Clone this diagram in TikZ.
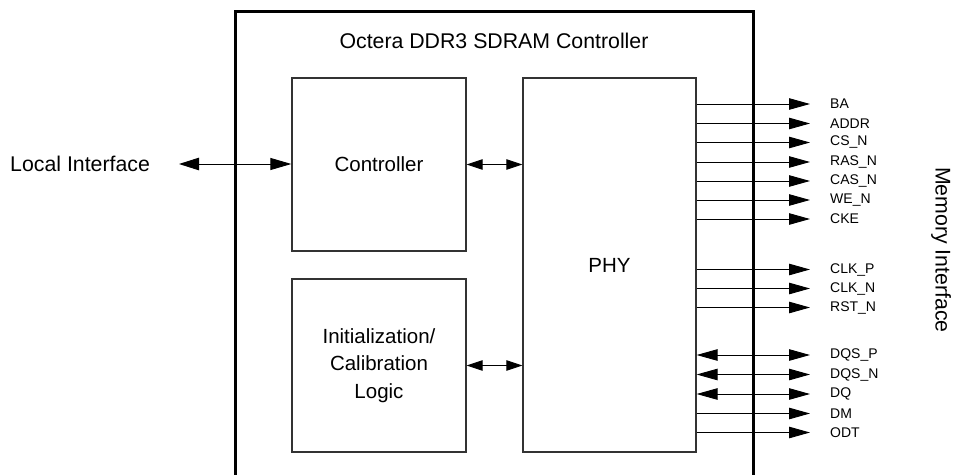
\documentclass[tikz,border=0pt]{standalone}
\usepackage{fontspec}
\setmainfont{Liberation Sans}
\usetikzlibrary{arrows.meta}
\begin{document}
\begin{tikzpicture}[x=1pt,y=-1pt,
  big/.style={font=\fontsize{20.5}{27.5}\selectfont, align=center},
  bigger/.style={font=\fontsize{21.3}{27.5}\selectfont, align=center},
  small/.style={font=\fontsize{14}{16}\selectfont, anchor=west, inner sep=0pt},
  blk/.style={draw=black!80, line width=1.3pt, inner sep=0pt},
  sig/.style={line width=0.9pt, -{Triangle[length=21pt,width=11.5pt]}},
  bsig/.style={line width=0.9pt, {Triangle[length=21pt,width=11.5pt]}-{Triangle[length=21pt,width=11.5pt]}},
  link/.style={line width=0.9pt, {Triangle[length=16pt,width=10.5pt]}-{Triangle[length=16pt,width=10.5pt]}},
  lnk/.style={line width=0.9pt, {Triangle[length=20pt,width=12.5pt]}-{Triangle[length=21pt,width=12pt]}}
]
\useasboundingbox (0,0) rectangle (956,474);
% outer box (bottom edge out of the picture)
\draw[line width=3pt] (235,490) -- (235,11) -- (753,11) -- (753,490);
\node[bigger] (title) at (494,41) {Octera DDR3 SDRAM Controller};

\node[blk, minimum width=174pt, minimum height=173pt, big] (ctrl) at (379,164.5) {Controller};
\node[blk, minimum width=174pt, minimum height=173pt, big] (init) at (379,365.5) {Initialization/\\Calibration\\Logic};
\node[blk, minimum width=173pt, minimum height=374pt, big] (phy) at (609.5,265) {PHY};

\node[bigger, anchor=west, inner sep=0pt] (local) at (10,164) {Local Interface};
\coordinate (lt) at (179,164);
\draw[lnk] (lt) -- (lt -| ctrl.west);

\draw[link] (ctrl.east) -- (ctrl.east -| phy.west);
\draw[link] (init.east) -- (init.east -| phy.west);

% memory signals
\foreach \n/\y/\t in {ba/104/BA, addr/123.5/ADDR, cs/142.5/CS\_N, ras/162/RAS\_N, cas/181/CAS\_N, we/200/WE\_N, cke/219/CKE, clkp/269.5/CLK\_P, clkn/288.5/CLK\_N, rst/307.5/RST\_N}{
  \coordinate (t\n) at (810,\y);
  \node[small] (l\n) at (830,\y) {\t};
  \draw[sig] (phy.east |- t\n) -- (t\n);
}
\foreach \n/\y/\t in {dqsp/355/DQS\_P, dqsn/374.5/DQS\_N, dq/394/DQ}{
  \coordinate (t\n) at (810,\y);
  \node[small] (l\n) at (830,\y) {\t};
  \draw[bsig] (phy.east |- t\n) -- (t\n);
}
\foreach \n/\y/\t in {dm/413.5/DM, odt/432.5/ODT}{
  \coordinate (t\n) at (810,\y);
  \node[small] (l\n) at (830,\y) {\t};
  \draw[sig] (phy.east |- t\n) -- (t\n);
}
\node[bigger, rotate=-90] (mem) at (941,250) {Memory Interface};
\end{tikzpicture}
\end{document}
